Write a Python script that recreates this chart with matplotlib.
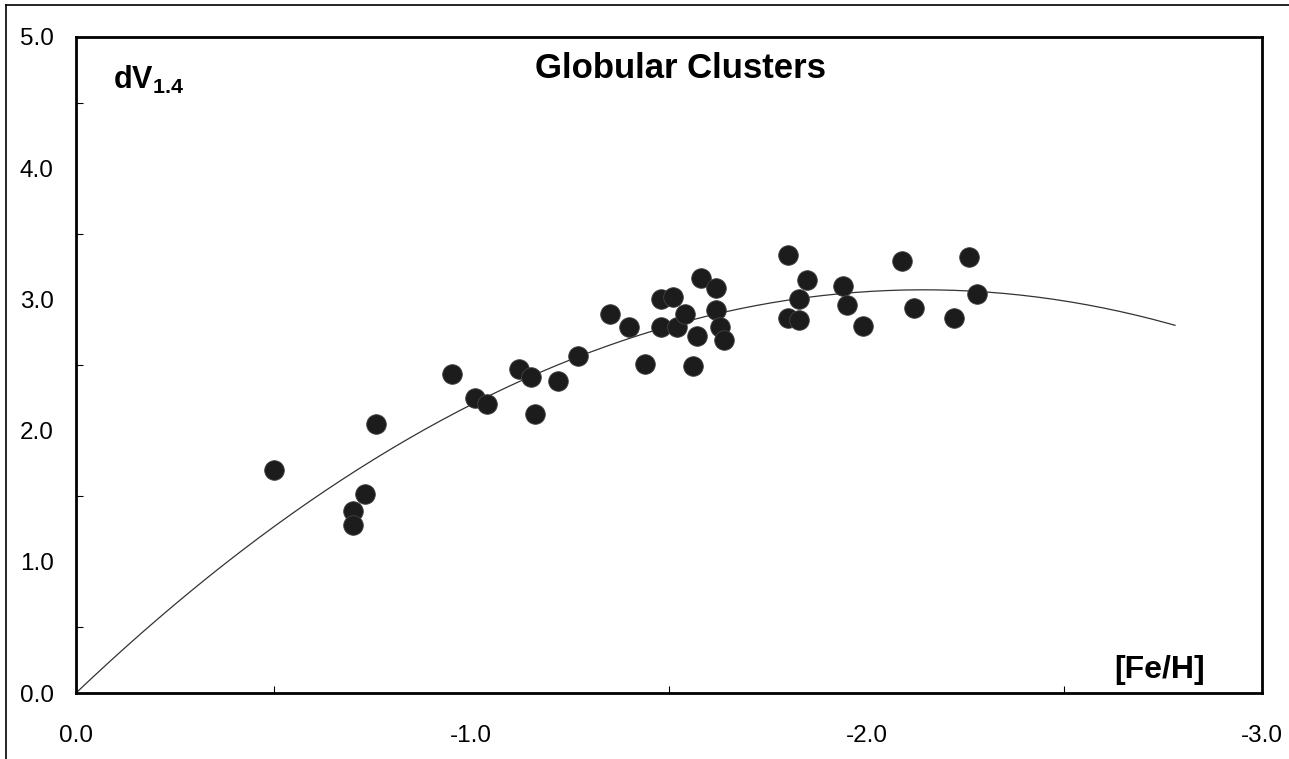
import numpy as np
import matplotlib.pyplot as plt
from matplotlib.lines import Line2D

plt.rcParams['font.family'] = 'Liberation Sans'
plt.rcParams['mathtext.fontset'] = 'custom'
plt.rcParams['mathtext.rm'] = 'Liberation Sans'
plt.rcParams['mathtext.bf'] = 'Liberation Sans:bold'

# globular clusters
fe_h = [-0.50, -0.70, -0.70, -0.73, -0.76, -0.95, -1.01, -1.04, -1.12, -1.15,
        -1.22, -1.16, -1.27, -1.35, -1.40, -1.44, -1.48, -1.51, -1.48, -1.52,
        -1.54, -1.57, -1.56, -1.58, -1.62, -1.62, -1.63, -1.64, -1.80, -1.85,
        -1.83, -1.80, -1.83, -1.94, -1.95, -1.99, -2.09, -2.12, -2.26, -2.28,
        -2.22]
dv14 = [1.70, 1.385, 1.28, 1.52, 2.05, 2.43, 2.245, 2.20, 2.47, 2.41,
        2.38, 2.13, 2.565, 2.89, 2.79, 2.51, 3.00, 3.02, 2.79, 2.79,
        2.89, 2.72, 2.49, 3.16, 3.09, 2.92, 2.79, 2.69, 3.34, 3.15,
        3.00, 2.86, 2.84, 3.10, 2.955, 2.80, 3.29, 2.935, 3.32, 3.04,
        2.856]

x_ticks = [0.0, -1.0, -2.0, -3.0]
y_ticks = [0.0, 1.0, 2.0, 3.0, 4.0, 5.0]

# quadratic trend through the origin
fx = np.array(fe_h)
fy = np.array(dv14)
A = np.vstack([fx, fx**2]).T
coef = np.linalg.lstsq(A, fy, rcond=None)[0]
xc = np.linspace(0, -2.78, 200)
yc = coef[0]*xc + coef[1]*xc**2

fig = plt.figure(figsize=(12.89, 7.59), dpi=100)
ax = fig.add_axes([76/1289, 1-693/759, (1262-76)/1289, (693-37)/759])

ax.plot(xc, yc, color='#333333', lw=0.9, zorder=2)
ax.scatter(fe_h, dv14, s=200, color='#1c1c1c', edgecolors='#444444',
           linewidths=0.6, zorder=3)

ax.set_xlim(0, -3.0)
ax.set_ylim(0, 5.0)
ax.set_xticks(x_ticks)
ax.set_xticklabels(['%.1f' % t for t in x_ticks])
ax.set_yticks(y_ticks)
ax.set_yticklabels(['%.1f' % t for t in y_ticks])
ax.set_xticks([-0.5, -1.5, -2.5], minor=True)
ax.set_yticks([0.5, 1.5, 2.5, 3.5, 4.5], minor=True)
ax.tick_params(axis='both', which='major', length=0, labelsize=17.5)
ax.tick_params(axis='x', which='major', pad=23)
ax.tick_params(axis='y', which='major', pad=16)
ax.tick_params(which='minor', direction='in', length=5, width=0.8)
for s in ax.spines.values():
    s.set_linewidth(2)

ax.set_title('Globular Clusters', fontsize=25, fontweight='bold',
             y=0.94, x=0.51, va='center')
ax.text(0.031, 0.935, r'$\mathbf{dV}_{\mathbf{1.4}}$', transform=ax.transAxes,
        fontsize=22, va='center')
ax.text(0.952, 0.035, '[Fe/H]', transform=ax.transAxes, fontsize=23,
        fontweight='bold', ha='right', va='center')

# scan frame
fig.add_artist(Line2D([6/1289, 6/1289], [0, 1-5/759], color='black', lw=1.2))
fig.add_artist(Line2D([6/1289, 1], [1-5/759, 1-5/759], color='black', lw=1.2))

fig.savefig('out.png', dpi=100)
